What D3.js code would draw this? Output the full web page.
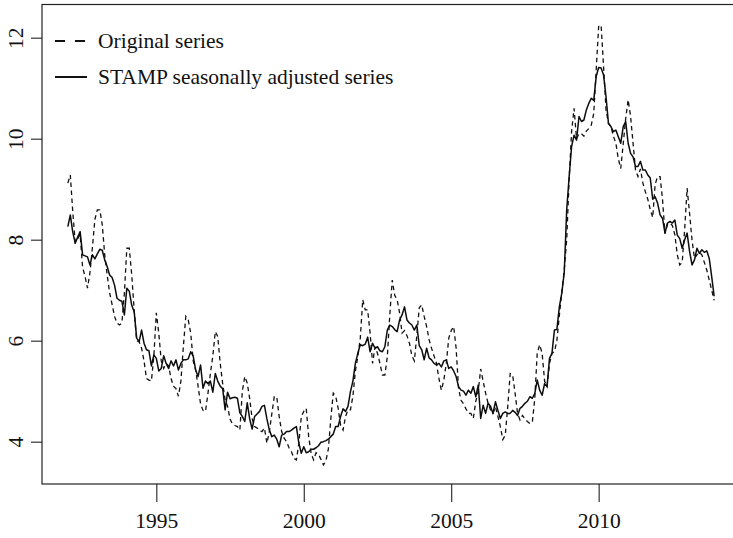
<!DOCTYPE html>
<html>
<head>
<meta charset="utf-8">
<script src="https://cdn.jsdelivr.net/npm/d3@7"></script>
<style>
  html, body { margin: 0; padding: 0; background: #fff; }
  svg { display: block; }
  text { font-family: "Liberation Serif", "Times New Roman", Times, serif; fill: #111; }
</style>
</head>
<body>
<svg id="chart" width="733" height="538"></svg>
<script>
// Monthly unemployment-type series, January 1992 to December 2013
const startYear = 1992;

const originalSeries = [
  9.12, 9.28, 8.55, 7.95, 8.02, 8.10, 7.45, 7.27, 7.04, 7.35, 7.85, 8.40,   // 1992
  8.59, 8.59, 8.30, 7.70, 7.30, 6.95, 6.72, 6.48, 6.35, 6.31, 6.35, 6.94,   // 1993
  7.83, 7.83, 7.30, 6.60, 6.00, 5.98, 5.85, 5.60, 5.25, 5.22, 5.20, 5.70,   // 1994
  6.55, 6.15, 5.60, 5.45, 5.55, 5.50, 5.25, 5.10, 5.05, 4.90, 5.20, 5.88,   // 1995
  6.48, 6.41, 6.15, 5.60, 5.42, 5.10, 4.75, 4.62, 4.60, 4.95, 5.35, 5.70,   // 1996
  6.18, 6.08, 5.55, 5.15, 4.83, 4.70, 4.45, 4.35, 4.32, 4.30, 4.23, 5.00,   // 1997
  5.29, 5.16, 4.85, 4.45, 4.30, 4.27, 4.22, 4.20, 4.27, 3.97, 4.20, 4.55,   // 1998
  4.89, 4.89, 4.50, 4.20, 4.07, 4.00, 3.88, 3.80, 3.67, 3.64, 3.97, 4.50,   // 1999
  4.60, 4.66, 4.10, 3.77, 3.64, 3.78, 3.75, 3.65, 3.54, 3.62, 3.85, 4.45,   // 2000
  4.96, 4.90, 4.66, 4.32, 4.23, 4.50, 4.63, 4.63, 4.90, 5.40, 5.68, 6.05,   // 2001
  6.81, 6.61, 6.61, 6.15, 5.55, 5.88, 5.75, 5.55, 5.32, 5.32, 5.68, 6.50,   // 2002
  7.20, 6.90, 6.81, 6.55, 6.15, 6.20, 6.10, 5.95, 5.70, 5.60, 6.10, 6.65,   // 2003
  6.71, 6.48, 6.28, 6.02, 5.85, 5.70, 5.55, 5.25, 5.02, 5.22, 5.55, 6.05,   // 2004
  6.20, 6.28, 5.85, 5.05, 4.82, 4.75, 4.65, 4.56, 4.56, 4.46, 4.80, 5.00,   // 2005
  5.44, 5.20, 4.96, 4.76, 4.63, 4.56, 4.69, 4.50, 4.30, 4.04, 4.13, 4.69,   // 2006
  5.35, 5.32, 4.96, 4.56, 4.43, 4.52, 4.45, 4.40, 4.36, 4.38, 4.85, 5.75,   // 2007
  5.92, 5.75, 5.20, 5.09, 5.55, 5.75, 5.78, 6.00, 6.50, 6.95, 7.40, 8.00,   // 2008
  9.20, 10.15, 10.60, 10.00, 10.10, 10.10, 10.05, 10.15, 10.20, 10.27, 10.50, 11.36, // 2009
  12.22, 12.25, 11.43, 10.57, 10.30, 10.24, 10.05, 9.91, 9.60, 9.41, 9.90, 10.40,   // 2010
  10.77, 10.44, 9.91, 9.38, 9.25, 9.40, 9.12, 8.95, 8.80, 8.60, 8.44, 9.10,  // 2011
  9.25, 9.25, 8.79, 8.12, 8.30, 8.33, 8.28, 8.10, 7.70, 7.50, 7.55, 8.20,   // 2012
  9.02, 8.52, 7.99, 7.63, 7.70, 7.75, 7.70, 7.55, 7.40, 7.20, 7.00, 6.80    // 2013
];

const adjustedSeries = [
  8.26, 8.49, 8.15, 7.93, 8.05, 8.16, 7.70, 7.68, 7.66, 7.50, 7.70, 7.62,   // 1992
  7.72, 7.81, 7.79, 7.60, 7.47, 7.30, 7.25, 7.10, 6.84, 6.80, 6.78, 6.51,   // 1993
  7.04, 6.98, 6.70, 6.57, 6.05, 5.98, 6.21, 5.95, 5.82, 5.80, 5.50, 5.72,   // 1994
  5.65, 5.40, 5.45, 5.70, 5.55, 5.45, 5.60, 5.50, 5.62, 5.42, 5.55, 5.62,   // 1995
  5.62, 5.64, 5.78, 5.70, 5.42, 5.29, 5.52, 5.06, 5.20, 5.15, 5.20, 4.98,   // 1996
  5.35, 5.20, 5.10, 5.05, 4.63, 4.98, 4.85, 4.87, 4.88, 4.86, 4.57, 4.50,   // 1997
  4.40, 4.77, 4.45, 4.25, 4.50, 4.55, 4.60, 4.70, 4.72, 4.45, 4.23, 4.10,   // 1998
  4.13, 4.05, 3.90, 4.13, 4.15, 4.20, 4.20, 4.23, 4.27, 4.30, 3.97, 3.77,   // 1999
  3.90, 3.78, 3.80, 3.85, 3.85, 3.88, 3.92, 3.99, 4.00, 4.02, 4.05, 4.10,   // 2000
  4.15, 4.30, 4.30, 4.50, 4.65, 4.60, 4.70, 4.99, 5.20, 5.55, 5.75, 5.92,   // 2001
  5.90, 5.93, 6.07, 5.78, 5.95, 5.85, 5.88, 5.80, 5.78, 5.88, 6.21, 6.31,   // 2002
  6.28, 6.22, 6.18, 6.41, 6.51, 6.67, 6.41, 6.35, 6.31, 6.21, 6.31, 5.90,   // 2003
  5.82, 5.62, 5.85, 5.66, 5.62, 5.55, 5.52, 5.55, 5.48, 5.60, 5.62, 5.45,   // 2004
  5.48, 5.40, 5.29, 5.09, 5.02, 5.00, 4.92, 5.02, 4.96, 5.09, 4.89, 5.12,   // 2005
  4.46, 4.72, 4.56, 4.76, 4.70, 4.56, 4.79, 4.62, 4.46, 4.56, 4.59, 4.56,   // 2006
  4.56, 4.62, 4.58, 4.52, 4.66, 4.70, 4.76, 4.80, 4.89, 4.86, 4.95, 5.22,   // 2007
  5.02, 4.92, 5.15, 5.09, 5.65, 5.75, 6.21, 6.22, 6.67, 6.94, 7.35, 8.59,   // 2008
  9.25, 9.85, 10.07, 9.97, 10.44, 10.34, 10.37, 10.57, 10.70, 10.80, 10.76, 11.23, // 2009
  11.41, 11.40, 11.26, 10.83, 10.30, 10.24, 10.14, 10.17, 10.04, 9.91, 10.24, 10.34, // 2010
  9.91, 9.71, 9.64, 9.45, 9.45, 9.55, 9.38, 9.38, 9.28, 9.22, 8.80, 8.85,   // 2011
  8.72, 8.49, 8.42, 8.13, 8.33, 8.36, 8.33, 8.39, 8.09, 8.02, 7.83, 8.00,   // 2012
  8.13, 7.77, 7.50, 7.60, 7.83, 7.73, 7.80, 7.75, 7.78, 7.63, 7.27, 6.88    // 2013
];

const xTickYears = [1995, 2000, 2005, 2010];
const yTickValues = [4, 6, 8, 10, 12];
const legendLabels = ["Original series", "STAMP seasonally adjusted series"];

// Plot frame and axis limits
const frame = { left: 42, right: 740, top: 4.5, bottom: 484 };
const xLimits = [1991.1233, 2014.7933];
const yLimits = [3.162, 12.657];

const svg = d3.select("#chart");
svg.append("rect").attr("width", 733).attr("height", 538).attr("fill", "#fff");

const x = d3.scaleLinear().domain(xLimits).range([frame.left, frame.right]);
const y = d3.scaleLinear().domain(yLimits).range([frame.bottom, frame.top]);

const toPoints = arr => arr.map((v, i) => ({ t: startYear + i / 12, v }));

const line = d3.line().x(d => x(d.t)).y(d => y(d.v));

// Original (dashed) series first, adjusted (solid) drawn over it
svg.append("path")
  .datum(toPoints(originalSeries))
  .attr("d", line)
  .attr("fill", "none")
  .attr("stroke", "#111")
  .attr("stroke-width", 1.3)
  .attr("stroke-dasharray", "4.5,3.5");

svg.append("path")
  .datum(toPoints(adjustedSeries))
  .attr("d", line)
  .attr("fill", "none")
  .attr("stroke", "#0d0d0d")
  .attr("stroke-width", 1.5)
  .attr("stroke-linejoin", "round");

// Box around the plot region
svg.append("rect")
  .attr("x", frame.left).attr("y", frame.top)
  .attr("width", frame.right - frame.left)
  .attr("height", frame.bottom - frame.top)
  .attr("fill", "none").attr("stroke", "#222").attr("stroke-width", 1.2);

// Bottom axis
const xAxis = d3.axisBottom(x).tickValues(xTickYears).tickFormat(d3.format("d"))
  .tickSizeInner(18).tickSizeOuter(0).tickPadding(6);
const gx = svg.append("g").attr("transform", `translate(0,${frame.bottom})`).call(xAxis);
gx.select(".domain").remove();
gx.selectAll(".tick line").attr("stroke", "#222").attr("stroke-width", 1.1);
gx.selectAll(".tick text").attr("font-size", 21.5).attr("fill", "#111")
  .attr("y", 44).attr("dy", null);

// Left axis with labels turned parallel to the axis
const yAxis = d3.axisLeft(y).tickValues(yTickValues).tickFormat(d3.format("d"))
  .tickSizeInner(11).tickSizeOuter(0);
const gy = svg.append("g").attr("transform", `translate(${frame.left},0)`).call(yAxis);
gy.select(".domain").remove();
gy.selectAll(".tick line").attr("stroke", "#222").attr("stroke-width", 1.1);
gy.selectAll(".tick text")
  .attr("font-size", 21.5).attr("fill", "#111")
  .attr("x", null).attr("dy", null)
  .attr("text-anchor", "middle")
  .attr("transform", "translate(-19,0) rotate(-90)");

// Legend
const legend = svg.append("g");
const legendRows = [
  { label: legendLabels[0], dash: "10,10", y: 41 },
  { label: legendLabels[1], dash: null, y: 77 }
];
legendRows.forEach(r => {
  legend.append("line")
    .attr("x1", 55).attr("x2", 87).attr("y1", r.y).attr("y2", r.y)
    .attr("stroke", "#111").attr("stroke-width", 2)
    .attr("stroke-dasharray", r.dash);
  legend.append("text")
    .attr("x", 98).attr("y", r.y + 7)
    .attr("font-size", 21.5)
    .text(r.label);
});
</script>
</body>
</html>
